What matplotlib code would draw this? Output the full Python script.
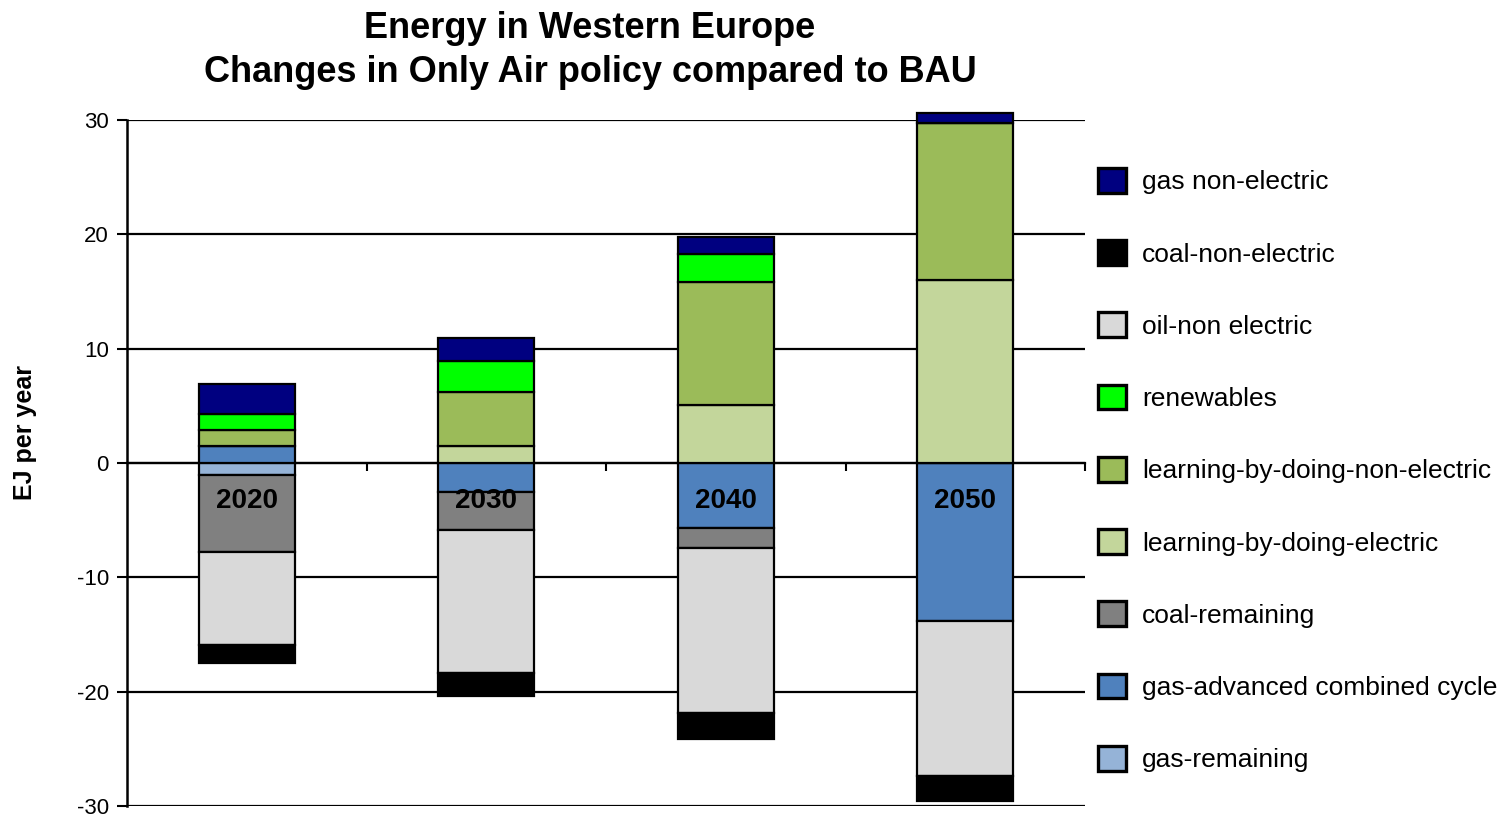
import numpy as np
import matplotlib
matplotlib.use("Agg")
import matplotlib.pyplot as plt
from matplotlib.patches import Patch

plt.rcParams['font.family'] = ['Liberation Sans', 'DejaVu Sans']

# Change in energy use (EJ per year), Only Air policy vs BAU
years = ['2020', '2030', '2040', '2050']

series_names = [
    'gas-remaining',
    'gas-advanced combined cycle',
    'coal-remaining',
    'learning-by-doing-electric',
    'learning-by-doing-non-electric',
    'renewables',
    'oil-non electric',
    'coal-non-electric',
    'gas non-electric',
]

gas_remaining = [-1.05, 0.0, 0.0, 0.0]
gas_advanced_cc = [1.5, -2.5, -5.7, -13.8]
coal_remaining = [-6.7, -3.4, -1.7, 0.0]
lbd_electric = [0.0, 1.5, 5.1, 16.0]
lbd_non_electric = [1.4, 4.7, 10.7, 13.7]
renewables = [1.4, 2.75, 2.5, 0.0]
oil_non_electric = [-8.2, -12.5, -14.5, -13.6]
coal_non_electric = [-1.5, -2.0, -2.2, -2.2]
gas_non_electric = [2.65, 1.95, 1.45, 0.9]

series_values = [gas_remaining, gas_advanced_cc, coal_remaining, lbd_electric,
                 lbd_non_electric, renewables, oil_non_electric,
                 coal_non_electric, gas_non_electric]

colors = ['#95B3D7', '#4F81BD', '#808080', '#C3D69B', '#9BBB59',
          '#00FF00', '#D9D9D9', '#000000', '#000080']

yticks = [-30, -20, -10, 0, 10, 20, 30]

fig = plt.figure(figsize=(15.12, 8.18), dpi=100)
W, H = 1512, 818
ax = fig.add_axes([127 / W, 1 - 806 / H, (1085 - 127) / W, (806 - 120) / H])

x = np.arange(len(years))
pos_base = np.zeros(len(years))
neg_base = np.zeros(len(years))
for name, vals, col in zip(series_names, series_values, colors):
    v = np.array(vals, dtype=float)
    bottoms = np.where(v >= 0, pos_base, neg_base)
    ax.bar(x, v, width=0.4, bottom=bottoms, color=col, edgecolor='black',
           linewidth=1.6, zorder=3, clip_on=False)
    pos_base = pos_base + np.where(v > 0, v, 0)
    neg_base = neg_base + np.where(v < 0, v, 0)

ax.set_xlim(-0.5, 3.5)
ax.set_ylim(-30, 30)
ax.set_yticks(yticks)
ax.set_yticklabels([str(t) for t in yticks], fontsize=16)
ax.tick_params(axis='y', direction='out', length=7, width=1.5, pad=6)

ax.yaxis.grid(True, color='black', linewidth=1.6)
ax.yaxis.set_zorder(1)

# x axis runs along zero, year labels sit just under it inside the bars
ax.spines['bottom'].set_position(('data', 0))
ax.spines['bottom'].set_linewidth(1.6)
ax.spines['bottom'].set_zorder(2)
ax.spines['left'].set_linewidth(1.8)
ax.spines['top'].set_visible(False)
ax.spines['right'].set_visible(False)
ax.set_xticks(x)
ax.set_xticklabels(years, fontsize=20, fontweight='bold')
ax.tick_params(axis='x', length=0, pad=18)
ax.set_xticks([0.5, 1.5, 2.5, 3.5], minor=True)
ax.tick_params(axis='x', which='minor', direction='out', length=6, width=1.5)
ax.xaxis.set_zorder(5)

fig.text(590 / W, 1 - 29 / H, 'Energy in Western Europe', ha='center',
         va='center', fontsize=26, fontweight='bold')
fig.text(590 / W, 1 - 73 / H, 'Changes in Only Air policy compared to BAU',
         ha='center', va='center', fontsize=26, fontweight='bold')
fig.text(25 / W, 1 - 432 / H, 'EJ per year', rotation=90, ha='center',
         va='center', fontsize=18, fontweight='bold')

handles = [Patch(facecolor=c, edgecolor='black', linewidth=2.4, label=n)
           for n, c in zip(series_names, colors)][::-1]
fig.legend(handles=handles, loc='upper left',
           bbox_to_anchor=(1098 / W, 1 - 168 / H), frameon=False,
           fontsize=19, handlelength=1.06, handleheight=1.06,
           handletextpad=0.6, labelspacing=1.74, borderpad=0,
           borderaxespad=0)

fig.savefig('out.png', dpi=100)
